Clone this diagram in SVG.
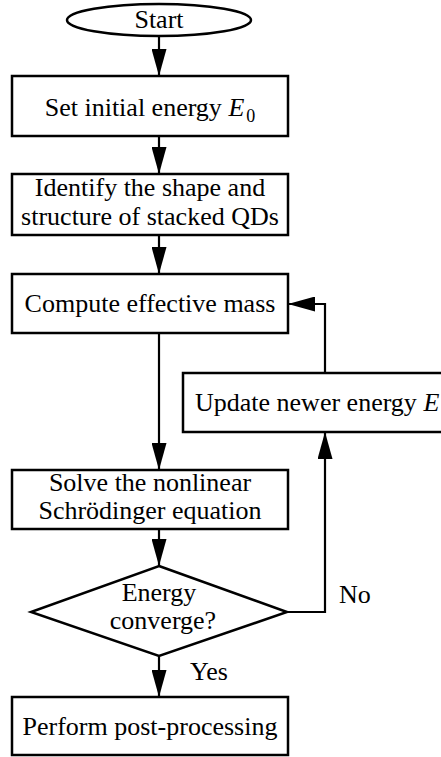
<svg xmlns="http://www.w3.org/2000/svg" width="441" height="757" viewBox="0 0 441 757">
<defs>
<marker id="ah" markerUnits="userSpaceOnUse" markerWidth="27" markerHeight="15" refX="27" refY="7.5" orient="auto">
<path d="M0,0 L27,7.5 L0,15 Z" fill="#000"/>
</marker>
<style>
.box{fill:#fff;stroke:#000;stroke-width:2.5}
.t{font-family:"Liberation Serif","Times New Roman",serif;font-size:26px;fill:#000;text-anchor:middle}
.l{font-family:"Liberation Serif","Times New Roman",serif;font-size:26px;fill:#000}
.c{fill:none;stroke:#000;stroke-width:2.2}
</style>
</defs>
<rect width="441" height="757" fill="#fff"/>
<g id="connectors">
<line class="c" x1="159" y1="36" x2="159" y2="76" marker-end="url(#ah)"/>
<line class="c" x1="159" y1="136" x2="159" y2="174" marker-end="url(#ah)"/>
<line class="c" x1="159" y1="235" x2="159" y2="274" marker-end="url(#ah)"/>
<line class="c" x1="159" y1="333" x2="159" y2="470" marker-end="url(#ah)"/>
<line class="c" x1="159" y1="529" x2="159" y2="566" marker-end="url(#ah)"/>
<line class="c" x1="159" y1="656" x2="159" y2="697" marker-end="url(#ah)"/>
<polyline class="c" points="287,612 325,612 325,432" marker-end="url(#ah)"/>
<polyline class="c" points="325,373 325,304 288,304" marker-end="url(#ah)"/>
<text class="l" x="339" y="603">No</text>
<text class="l" x="190" y="680">Yes</text>
</g>
<g id="start">
<ellipse cx="159" cy="20" rx="92" ry="16" fill="#fff" stroke="#000" stroke-width="2.5"/>
<text class="t" x="159" y="28">Start</text>
</g>
<g id="set-energy">
<rect class="box" x="12" y="76" width="276" height="60"/>
<text class="t" x="150" y="116">Set initial energy <tspan font-style="italic">E</tspan><tspan font-size="18" dx="2" dy="6">0</tspan></text>
</g>
<g id="identify">
<rect class="box" x="12" y="174" width="276" height="61"/>
<text class="t" x="150" y="196">Identify the shape and</text>
<text class="t" x="150" y="225">structure of stacked QDs</text>
</g>
<g id="compute">
<rect class="box" x="12" y="274" width="276" height="59"/>
<text class="t" x="150" y="312">Compute effective mass</text>
</g>
<g id="update">
<rect class="box" x="183" y="373" width="270" height="59"/>
<text class="l" x="195" y="411">Update newer energy <tspan font-style="italic">E</tspan></text>
</g>
<g id="solve">
<rect class="box" x="12" y="470" width="276" height="59"/>
<text class="t" x="150" y="491">Solve the nonlinear</text>
<text class="t" x="150" y="519">Schrödinger equation</text>
</g>
<g id="converge">
<polygon points="159,566 287,612 159,656 31,612" fill="#fff" stroke="#000" stroke-width="2.5"/>
<text class="t" x="159" y="601" font-size="24">Energy</text>
<text class="t" x="163" y="629" font-size="24">converge?</text>
</g>
<g id="post">
<rect class="box" x="12" y="697" width="276" height="58"/>
<text class="t" x="150" y="735">Perform post-processing</text>
</g>
</svg>
